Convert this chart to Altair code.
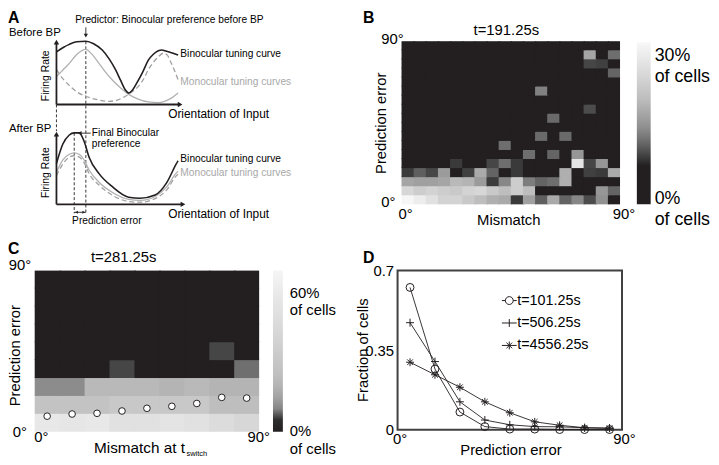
import altair as alt
import pandas as pd

FONT = "Liberation Sans"
INK = "#231f20"

# ---------------- Panel A: schematic tuning curves (orientation in deg, normalised rate) ----------
a_top_bino_x = [0, 10, 19, 30, 43.5, 55, 67.8, 78, 87.4, 95, 102, 106.8, 112, 119, 128, 136, 143, 150.7, 156, 160.5, 167, 172.7, 180]
a_top_bino_y = [0.83, 0.90, 0.95, 0.99, 1.0, 0.96, 0.86, 0.72, 0.55, 0.38, 0.23, 0.18, 0.22, 0.34, 0.52, 0.70, 0.79, 0.85, 0.86, 0.85, 0.83, 0.81, 0.78]
a_top_mono_x = [0, 10, 19, 30, 43.5, 52, 63, 72, 82.4, 95, 106.8, 120, 136, 150.7, 160, 170, 180]
a_top_mono_y = [0.44, 0.55, 0.65, 0.79, 0.87, 0.80, 0.65, 0.52, 0.39, 0.26, 0.16, 0.09, 0.04, 0.03, 0.05, 0.10, 0.18]
a_top_dash_x = [0, 10, 19, 30, 43.5, 63, 77.6, 90, 102, 112, 121.6, 130, 136, 143, 150.7, 158, 164, 170, 175, 180]
a_top_dash_y = [0.55, 0.40, 0.30, 0.20, 0.13, 0.07, 0.05, 0.07, 0.13, 0.20, 0.29, 0.42, 0.55, 0.66, 0.75, 0.81, 0.78, 0.65, 0.53, 0.39]

a_bot_x = [0, 9.3, 19, 26.3, 33.7, 41, 48.3, 63, 82.4, 106.8, 124, 146, 163, 177.5, 180]
a_bot_bino_y = [0.57, 0.84, 0.97, 1.0, 1.0, 0.88, 0.66, 0.43, 0.25, 0.10, 0.085, 0.13, 0.30, 0.57, 0.61]
a_bot_mono_y = [0.45, 0.62, 0.70, 0.72, 0.70, 0.62, 0.48, 0.31, 0.17, 0.07, 0.055, 0.11, 0.24, 0.44, 0.46]
a_bot_dash_y = [0.40, 0.56, 0.66, 0.68, 0.66, 0.58, 0.43, 0.27, 0.13, 0.04, 0.03, 0.08, 0.20, 0.40, 0.42]

a_predictor = 43.5      # binocular preference before BP (deg)
a_final = 26.3          # final binocular preference (deg)

# ---------------- Panel B: % of cells, 5 deg bins (rows: prediction error from 0, cols: mismatch) ----
b_bins = list(range(0, 90, 5))
b_rows = [
    [33.5, 31.5, 29.0, 26.2, 26.2, 24.3, 22.2, 20.1, 19.4, 9.7, 18.1, 12.2, 19.4, 12.5, 15.4, 10.9, 16.3, 0],
    [27.1, 25.2, 26.2, 25.2, 24.3, 26.2, 27.1, 24.3, 22.2, 25.2, 22.2, 0, 0, 0, 0, 0, 16.7, 12.5],
    [18.8, 18.1, 18.1, 18.8, 21.5, 20.8, 17.4, 9.8, 15.4, 25.2, 14.5, 12.5, 13.2, 20.1, 0, 0, 0, 0],
    [9.8, 12.2, 10.5, 17.4, 0, 10.1, 19.4, 12.5, 0, 9.7, 0, 0, 0, 20.1, 0, 10.1, 9.7, 19.4],
    [0, 0, 0, 0, 9.7, 0, 0, 10.5, 13.2, 9.7, 0, 0, 0, 0, 29.8, 10.5, 16.7, 0],
    [0, 0, 0, 0, 0, 0, 0, 0, 0, 0, 13.2, 0, 12.5, 0, 16.7, 0, 0, 0],
    [0, 0, 0, 0, 0, 0, 0, 0, 13.2, 0, 0, 0, 0, 0, 0, 0, 0, 0],
    [0, 0, 0, 0, 0, 0, 0, 0, 0, 0, 0, 12.9, 0, 12.9, 0, 0, 0, 0],
    [0, 0, 0, 0, 0, 0, 0, 0, 0, 0, 0, 0, 0, 0, 0, 0, 0, 0],
    [0, 0, 0, 0, 0, 0, 0, 0, 0, 0, 0, 0, 12.9, 0, 0, 0, 0, 0],
    [0, 0, 0, 0, 0, 0, 0, 0, 0, 0, 0, 0, 0, 0, 0, 10.9, 0, 0],
    [0, 0, 0, 0, 0, 0, 0, 0, 0, 0, 0, 0, 0, 0, 0, 0, 0, 0],
    [0, 0, 0, 0, 0, 0, 0, 0, 0, 0, 0, 14.9, 0, 0, 0, 0, 0, 0],
    [0, 0, 0, 0, 0, 0, 0, 0, 0, 0, 0, 0, 0, 0, 0, 0, 0, 0],
    [0, 0, 0, 0, 0, 0, 0, 0, 0, 0, 0, 0, 0, 0, 0, 0, 0, 12.5],
    [0, 0, 0, 0, 0, 0, 0, 0, 0, 0, 0, 0, 0, 0, 0, 10.5, 10.1, 0],
    [0, 0, 0, 0, 0, 0, 0, 0, 0, 0, 0, 0, 0, 0, 0, 18.8, 0, 13.2],
    [0, 0, 0, 0, 0, 0, 0, 0, 0, 0, 0, 0, 0, 0, 0, 0, 0, 0],
]

# ---------------- Panel C: % of cells, 10 deg bins ----------------
c_bins = list(range(0, 90, 10))
c_rows = [
    [58.1, 56.4, 58.1, 52.0, 52.0, 54.6, 52.0, 47.8, 43.5],
    [27.3, 27.3, 27.3, 31.2, 31.2, 31.2, 31.2, 23.5, 23.5],
    [10.8, 10.8, 21.8, 21.8, 21.8, 20.0, 21.8, 20.0, 20.0],
    [0, 0, 0, 5.8, 0, 0, 0, 0, 8.0],
    [0, 0, 0, 0, 0, 0, 0, 5.8, 0],
    [0, 0, 0, 0, 0, 0, 0, 0, 0],
    [0, 0, 0, 0, 0, 0, 0, 0, 0],
    [0, 0, 0, 0, 0, 0, 0, 0, 0],
    [0, 0, 0, 0, 0, 0, 0, 0, 0],
]
c_mean_x = [5, 15, 25, 35, 45, 55, 65, 75, 85]
c_mean_err = [8.7, 9.9, 10.3, 11.6, 13.1, 14.2, 15.8, 19.2, 18.8]

# ---------------- Panel D ----------------
d_x = [5, 15, 25, 35, 45, 55, 65, 75, 85]
d_series = ["t=101.25s", "t=506.25s", "t=4556.25s"]
d_t101 = [0.626, 0.267, 0.078, 0.014, 0.003, 0.003, 0.001, 0.001, 0.001]
d_t506 = [0.471, 0.300, 0.123, 0.043, 0.022, 0.014, 0.013, 0.009, 0.007]
d_t4556 = [0.297, 0.242, 0.187, 0.123, 0.075, 0.035, 0.020, 0.009, 0.007]

# ---------------- colour maps (grey, black floor) ----------------
B_DOM = [0, 9.6, 9.7, 11.2, 13.2, 16.7, 22.2, 29.0, 33.9]
B_RNG = ["#231f20", "#231f20", "#3a3a3a", "#505050", "#6e6e6e", "#969696", "#bebebe", "#e1e1e1", "#f8f8f8"]
C_DOM = [0, 4.8, 5.1, 6.5, 9.4, 12.2, 16.5, 23.5, 35, 52, 69.4]
C_RNG = ["#231f20", "#231f20", "#323232", "#5a5a5a", "#828282", "#969696", "#aaaaaa", "#bebebe", "#cdcdcd", "#e1e1e1", "#f5f5f5"]

one = pd.DataFrame({"k": [0]})


def label(text, x, y, size=15, align="left", baseline="middle", angle=0, color="black", weight="normal"):
    kw = dict(text=text, fontSize=size, align=align, baseline=baseline, color=color,
              font=FONT, fontWeight=weight)
    if angle:
        kw["angle"] = angle
    return alt.Chart(one).mark_text(**kw).encode(x=alt.value(x), y=alt.value(y))


# ---------- Panel A ----------
def sx():
    return alt.Scale(domain=[-32.2, 300.0], nice=False, zero=False)


def syt():
    return alt.Scale(domain=[0, 1], range=[64, 0], nice=False, zero=False)


def syb():
    return alt.Scale(domain=[0, 1], range=[165, 92.7], nice=False, zero=False)


def curve(xs, ys, ysc, color, width, dash=None):
    df = pd.DataFrame({"x": xs, "y": ys})
    kw = dict(interpolate="monotone", color=color, strokeWidth=width)
    if dash:
        kw["strokeDash"] = dash
    return alt.Chart(df).mark_line(**kw).encode(
        x=alt.X("x:Q", scale=sx(), axis=None), y=alt.Y("y:Q", scale=ysc, axis=None))


def seg(x, y, x2, y2, ysc, width=1.0, dash=None):
    df = pd.DataFrame({"x": [x], "y": [y], "x2": [x2], "y2": [y2]})
    kw = dict(color=INK, strokeWidth=width)
    if dash:
        kw["strokeDash"] = dash
    return alt.Chart(df).mark_rule(**kw).encode(
        x=alt.X("x:Q", scale=sx(), axis=None), y=alt.Y("y:Q", scale=ysc, axis=None),
        x2="x2:Q", y2="y2:Q")


def head(x, y, ysc, shape, size=30):
    df = pd.DataFrame({"x": [x], "y": [y]})
    return alt.Chart(df).mark_point(shape=shape, filled=True, color=INK, size=size, opacity=1).encode(
        x=alt.X("x:Q", scale=sx(), axis=None), y=alt.Y("y:Q", scale=ysc, axis=None))


GS = "#b0b0b0"
GD = "#a0a0a0"
A_layers = [
    seg(0, 1.397, 0, 1.024, syb(), 0.9, [3, 2]),
    seg(a_predictor, 2.28, a_predictor, -0.125, syb(), 0.9, [3, 2]),
    seg(a_final, 1.0, a_final, -0.125, syb(), 0.9, [3, 2]),
    curve(a_top_dash_x, a_top_dash_y, syt(), GD, 1.3, [5, 3]),
    curve(a_top_mono_x, a_top_mono_y, syt(), GS, 1.3),
    curve(a_top_bino_x, a_top_bino_y, syt(), INK, 1.6),
    curve(a_bot_x, a_bot_dash_y, syb(), GD, 1.3, [5, 3]),
    curve(a_bot_x, a_bot_mono_y, syb(), GS, 1.3),
    curve(a_bot_x, a_bot_bino_y, syb(), INK, 1.6),
    seg(0, 0, 183, 0, syt(), 1.8), seg(0, 0, 0, 0.985, syt(), 1.8),
    head(183, 0, syt(), "triangle-right"), head(0, 0.985, syt(), "triangle-up"),
    seg(0, 0, 187.3, 0, syb(), 1.8), seg(0, 0, 0, 0.982, syb(), 1.8),
    head(187.3, 0, syb(), "triangle-right"), head(0, 0.982, syb(), "triangle-up"),
    seg(a_predictor, 1.219, a_predictor, 1.09, syt(), 0.9),
    head(a_predictor, 1.0875, syt(), "triangle-down", 18),
    seg(50.8, 0.996, 35, 0.996, syb(), 0.9),
    head(34.5, 0.996, syb(), "triangle-left", 18),
    seg(a_final, -0.111, a_predictor, -0.111, syb(), 0.9),
    head(29.7, -0.111, syb(), "triangle-left", 10),
    head(40.4, -0.111, syb(), "triangle-right", 10),
    label("A", -27, -31, 16, baseline="top", weight="bold"),
    label("Predictor: Binocular preference before BP", 41, -21.7, 10.3),
    label("Before BP", -26, -8.5, 11.5),
    label("Firing Rate", 11.7, 35, 10.5, align="center", angle=270),
    label("Binocular tuning curve", 147.3, 13.3, 10.3),
    label("Monocular tuning curves", 147.3, 41, 10.3, color="#a8a8a8"),
    label("Orientation of Input", 135, 73.7, 12),
    label("After BP", -26, 89.3, 11.5),
    label("Firing Rate", 11.7, 133, 10.5, align="center", angle=270),
    label("Final Binocular", 57.7, 92.7, 10.3),
    label("preference", 57.7, 104.3, 10.3),
    label("Binocular tuning curve", 147.3, 118.7, 10.3),
    label("Monocular tuning curves", 147.3, 133.3, 10.3, color="#a8a8a8"),
    label("Orientation of Input", 135, 175, 12),
    label("Prediction error", 73, 182, 10.3, align="center"),
]
A = alt.layer(*A_layers).resolve_scale(y="independent").properties(width=227, height=165)


# ---------- heatmap helpers ----------
def grid_frame(rows, bins, step):
    recs = []
    for r, row in enumerate(rows):
        for c, v in enumerate(row):
            recs.append({"x0": bins[c], "x1": bins[c] + step, "y0": bins[r], "y1": bins[r] + step, "pct": v})
    return pd.DataFrame(recs)


def deg_axis(**kw):
    base = dict(values=[0, 90], labelExpr="datum.value + '°'", title=None, domain=False,
                ticks=False, tickSize=0, grid=False, labelFontSize=15, labelFont=FONT,
                labelColor="black", labelFlush=False, labelOverlap=False, labelBound=False)
    base.update(kw)
    return alt.Axis(**base)


def deg_scale(rng=None):
    if rng is None:
        return alt.Scale(domain=[0, 90], nice=False, zero=False)
    return alt.Scale(domain=[0, 90], range=rng, nice=False, zero=False)


def gradient_legend(x, y, length, thickness):
    return alt.Legend(type="gradient", orient="none", legendX=x, legendY=y, direction="vertical",
                      title=None, gradientLength=length, gradientThickness=thickness,
                      gradientStrokeWidth=0, labelExpr="''", labelFontSize=1, padding=0)


def heat(df, dom, rng, legend, xaxis, yaxis, xrange=None):
    # neighbouring cells overlap by ~1px (not at the outer edge) to hide anti-aliasing seams
    return alt.Chart(df).transform_calculate(
        x1e="datum.x1 < 90 ? datum.x1 + 0.5 : datum.x1",
        y1e="datum.y1 < 90 ? datum.y1 + 0.5 : datum.y1",
    ).mark_rect(strokeWidth=0).encode(
        x=alt.X("x0:Q", scale=deg_scale(xrange), axis=xaxis), x2="x1e:Q",
        y=alt.Y("y0:Q", scale=deg_scale(), axis=yaxis), y2="y1e:Q",
        color=alt.Color("pct:Q", scale=alt.Scale(type="linear", domain=dom, range=rng, interpolate="rgb"),
                        legend=legend),
    )


# ---------- Panel B (plot origin 4px left of the map; map spans x range [4, 225]) ----------
b_df = grid_frame(b_rows, b_bins, 5)
B_heat = heat(b_df, B_DOM, B_RNG, gradient_legend(242, 1, 164, 14),
              deg_axis(labelAlign="center", labelBaseline="middle", labelPadding=9, labelOffset=3.5),
              deg_axis(labelAlign="left", labelBaseline="middle", labelPadding=17, labelOffset=-3),
              xrange=[4, 225])
B = alt.layer(
    B_heat,
    label("B", -35, -31, 16, baseline="top", weight="bold"),
    label("t=191.25s", 110, -11.3, 15, align="center"),
    label("Prediction error", -17, 83, 15, align="center", angle=270),
    label("Mismatch", 112.5, 181, 15, align="center"),
    label("30%", 260, 15, 18), label("of cells", 260, 36.5, 18),
    label("0%", 260, 160, 18), label("of cells", 260, 181, 18),
).properties(width=225, height=165)

# ---------- Panel C ----------
c_df = grid_frame(c_rows, c_bins, 10)
c_mean = pd.DataFrame({"x": c_mean_x, "err": c_mean_err})
C_heat = heat(c_df, C_DOM, C_RNG, gradient_legend(241, 0, 163, 10),
              deg_axis(labelAlign={"condition": {"test": "datum.value == 0", "value": "left"}, "value": "center"},
                       labelBaseline="middle", labelPadding=5, labelOffset=-1),
              deg_axis(labelAlign="center", labelBaseline="middle", labelPadding=15.5,
                       labelOffset={"condition": {"test": "datum.value == 90", "value": -6}, "value": 0}))
C_pts = alt.Chart(c_mean).mark_point(shape="circle", filled=True, fill="white", stroke=INK,
                                     strokeWidth=1, size=45, opacity=1).encode(
    x=alt.X("x:Q", scale=deg_scale()), y=alt.Y("err:Q", scale=deg_scale()))
C = alt.layer(
    C_heat, C_pts,
    label("C", -27, -30, 16, baseline="top", weight="bold"),
    label("t=281.25s", 90, -13.5, 15, align="center"),
    label("Prediction error", -19.5, 86, 15, align="center", angle=270),
    label("Mismatch at t", 60, 179, 15.5),
    label("switch", 153.5, 186, 7.5),
    label("60%", 258, 22.7, 15), label("of cells", 258, 40.3, 15),
    label("0%", 258, 162.7, 15), label("of cells", 258, 180, 15),
).properties(width=227, height=163)

# ---------- Panel D ----------
d_df = pd.DataFrame({
    "x": d_x * 3,
    "frac": d_t101 + d_t506 + d_t4556,
    "series": [d_series[0]] * 9 + [d_series[1]] * 9 + [d_series[2]] * 9,
})
PLUS = "M-1,0L1,0M0,-1L0,1"
STAR = "M-1,0L1,0M0,-1L0,1M-0.71,-0.71L0.71,0.71M-0.71,0.71L0.71,-0.71"
L_CIRC = "M-1,0L-0.53,0M0.53,0L1,0M0.53,0A0.53,0.53 0 1 1 -0.53,0A0.53,0.53 0 1 1 0.53,0"
L_PLUS = "M-1,0L1,0M0,-0.53L0,0.53"
L_STAR = "M-1,0L1,0M0,-0.53L0,0.53M-0.38,-0.38L0.38,0.38M-0.38,0.38L0.38,-0.38"

dx = alt.X("x:Q", scale=deg_scale(),
           axis=deg_axis(labelAlign="center", labelBaseline="middle", labelPadding=8.7, labelOffset=2))
dy = alt.Y("frac:Q", scale=alt.Scale(domain=[0, 0.7], nice=False, zero=False),
           axis=alt.Axis(values=[0, 0.35, 0.7],
                         labelExpr="datum.value == 0 ? '0' : (datum.value > 0.5 ? '0.7' : '0.35')",
                         title=None, domain=False, ticks=False,
                         tickSize=0, grid=False, labelFontSize=15, labelFont=FONT, labelColor="black",
                         labelAlign="right", labelBaseline="middle", labelPadding=4, labelOverlap=False))
D_lines = alt.Chart(d_df).mark_line(color=INK, strokeWidth=0.9).encode(x=dx, y=dy, detail="series:N")
D_pts = alt.Chart(d_df).mark_point(filled=False, color=INK, strokeWidth=1, size=64, opacity=1).encode(
    x="x:Q", y="frac:Q",
    shape=alt.Shape("series:N", scale=alt.Scale(domain=d_series, range=["circle", PLUS, STAR]), legend=None))
D_leg = alt.Chart(d_df).transform_filter("false").mark_point(filled=False, color=INK, strokeWidth=1).encode(
    x="x:Q", y="frac:Q",
    shape=alt.Shape("series:N", scale=alt.Scale(domain=d_series, range=[L_CIRC, L_PLUS, L_STAR]),
                    legend=alt.Legend(orient="none", legendX=105, legendY=22.3, title=None,
                                      labelFontSize=14.5, labelFont=FONT, labelColor="black",
                                      symbolSize=225, symbolStrokeWidth=1, symbolStrokeColor=INK,
                                      symbolOpacity=1, rowPadding=7.7, labelOffset=0, padding=0)))
D = alt.layer(
    D_lines, D_pts, D_leg,
    label("D", -35, -21, 16, baseline="top", weight="bold"),
    label("Fraction of cells", -35, 80.5, 15, align="center", angle=270),
    label("Prediction error", 114.7, 181.3, 15, align="center"),
).resolve_scale(shape="independent").properties(
    width=227, height=161, view=alt.ViewBackground(stroke="#404040", strokeWidth=2))

chart = alt.concat(
    A, B, C, D, columns=2, spacing={"row": 67, "column": 140}, bounds="flush", align="none"
).resolve_scale(color="independent", shape="independent").resolve_legend(
    color="independent", shape="independent"
).properties(padding=0, background="white").configure_view(stroke=None)

chart.save("out.html", embed_options={"renderer": "svg", "actions": False})
